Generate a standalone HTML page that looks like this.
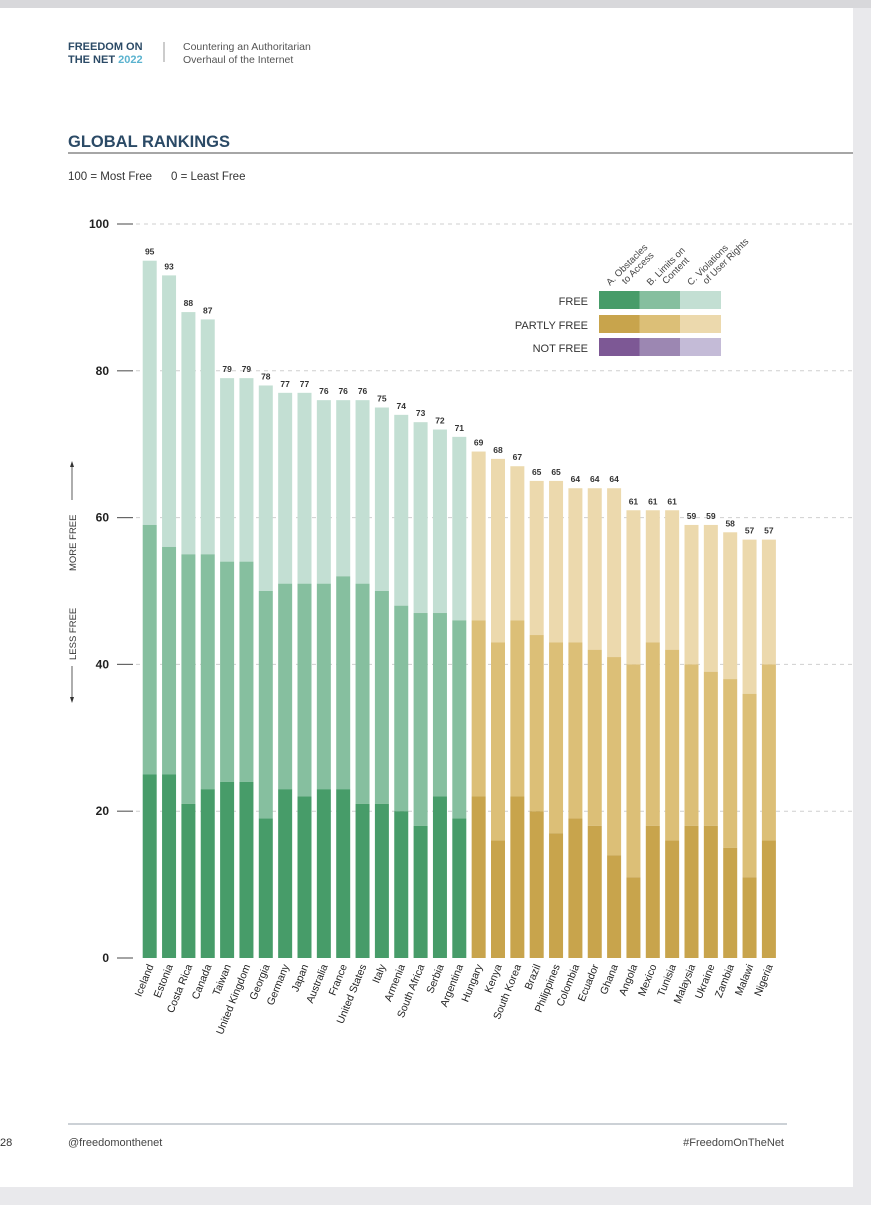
<!DOCTYPE html>
<html><head><meta charset="utf-8"><style>
html,body{margin:0;padding:0;background:#e9e9ec;}
body{width:871px;height:1200px;position:relative;overflow:hidden;font-family:"Liberation Sans",sans-serif;}
</style></head><body>
<svg width="871" height="1200" xmlns="http://www.w3.org/2000/svg">
<rect x="0" y="8" width="853" height="1179" fill="#ffffff"/>
<rect x="0" y="0" width="871" height="8" fill="#d8d8db"/>
<text x="68" y="50" font-size="11" font-weight="bold" fill="#2b4a66">FREEDOM ON</text>
<text x="68" y="63" font-size="11" font-weight="bold" fill="#2b4a66">THE NET <tspan fill="#5bb3cf">2022</tspan></text>
<line x1="164" y1="42" x2="164" y2="62" stroke="#999" stroke-width="1"/>
<text x="183" y="50" font-size="10.5" fill="#555">Countering an Authoritarian</text>
<text x="183" y="63" font-size="10.5" fill="#555">Overhaul of the Internet</text>
<text x="68" y="147" font-size="16.5" font-weight="bold" fill="#2b4a66">GLOBAL RANKINGS</text>
<line x1="68" y1="153" x2="853" y2="153" stroke="#888" stroke-width="1.5"/>
<text x="68" y="180" font-size="11.5" fill="#333">100 = Most Free<tspan x="171">0 = Least Free</tspan></text>
<g id="axis"></g>
<g id="bars"></g>
<g id="legend"></g>
<g font-size="9.5" fill="#333">
<line x1="72" y1="464" x2="72" y2="500" stroke="#333" stroke-width="0.8"/>
<polygon points="72,461 70,467 74,467" fill="#333"/>
<text transform="translate(76,571) rotate(-90)">MORE FREE</text>
<text transform="translate(76,660) rotate(-90)">LESS FREE</text>
<line x1="72" y1="666" x2="72" y2="700" stroke="#333" stroke-width="0.8"/>
<polygon points="72,703 70,697 74,697" fill="#333"/>
</g>
<line x1="68" y1="1124" x2="787" y2="1124" stroke="#9aa3ad" stroke-width="1"/>
<text x="0" y="1146" font-size="11" fill="#333">28</text>
<text x="68" y="1146" font-size="11" fill="#444">@freedomonthenet</text>
<text x="784" y="1146" font-size="11" fill="#444" text-anchor="end">#FreedomOnTheNet</text>
</svg>
<script>
const countries=["Iceland","Estonia","Costa Rica","Canada","Taiwan","United Kingdom","Georgia","Germany","Japan","Australia","France","United States","Italy","Armenia","South Africa","Serbia","Argentina","Hungary","Kenya","South Korea","Brazil","Philippines","Colombia","Ecuador","Ghana","Angola","Mexico","Tunisia","Malaysia","Ukraine","Zambia","Malawi","Nigeria"];
const totals=[95,93,88,87,79,79,78,77,77,76,76,76,75,74,73,72,71,69,68,67,65,65,64,64,64,61,61,61,59,59,58,57,57];
const scoreA=[25,25,21,23,24,24,19,23,22,23,23,21,21,20,18,22,19,22,16,22,20,17,19,18,14,11,18,16,18,18,15,11,16];
const scoreB=[34,31,34,32,30,30,31,28,29,28,29,30,29,28,29,25,27,24,27,24,24,26,24,24,27,29,25,26,22,21,23,25,24];
const status=["F","F","F","F","F","F","F","F","F","F","F","F","F","F","F","F","F","PF","PF","PF","PF","PF","PF","PF","PF","PF","PF","PF","PF","PF","PF","PF","PF"];
const yTicks=[0,20,40,60,80,100];
const NS="http://www.w3.org/2000/svg";
const colors={F:["#479c69","#86bf9f","#c3dfd3"],PF:["#c8a44c","#dcbf77","#ecd9ad"],NF:["#7d5895","#9c87b2","#c4bbd7"]};
const y0=958,unit=7.34,x0=142.7,step=19.35,bw=14;
const yS=v=>y0-v*unit, xS=i=>x0+i*step;
function mk(tag,attrs,parent){const e=document.createElementNS(NS,tag);for(const k in attrs)e.setAttribute(k,attrs[k]);parent.appendChild(e);return e;}
const axis=document.getElementById('axis');
yTicks.forEach(t=>{
 const y=yS(t);
 if(t>0){const g=mk('line',{x1:136,y1:y,x2:853,y2:y,stroke:'#cfcfcf','stroke-width':1,'stroke-dasharray':'4,4'},axis);
 
 }
 mk('line',{x1:117,y1:y,x2:133,y2:y,stroke:'#666','stroke-width':1.2},axis);
 const l=mk('text',{x:109,y:y+4,'font-size':12,'font-weight':'bold','text-anchor':'end',fill:'#222'},axis);
 l.textContent=t;
 
 
});
const bars=document.getElementById('bars');
countries.forEach((c,i)=>{
 const x=xS(i),col=colors[status[i]];
 const a=scoreA[i],ab=a+scoreB[i],tot=totals[i];
 const s3=mk('rect',{x:x,y:yS(tot),width:bw,height:yS(ab)-yS(tot),fill:col[2]},bars);
 
 
 const s2=mk('rect',{x:x,y:yS(ab),width:bw,height:yS(a)-yS(ab),fill:col[1]},bars);
 
 
 const s1=mk('rect',{x:x,y:yS(a),width:bw,height:y0-yS(a),fill:col[0]},bars);
 
 
 const v=mk('text',{x:x+bw/2,y:yS(tot)-6,'font-size':8.5,'font-weight':'bold','text-anchor':'middle',fill:'#333'},bars);
 v.textContent=tot;
 
 
 const n=mk('text',{transform:`translate(${x+bw/2+4},${y0+8}) rotate(-68)`,'font-size':10.5,'text-anchor':'end',fill:'#222'},bars);
 n.textContent=c;
 
 
});
const lg=document.getElementById('legend');
const rows=[["FREE","F",300],["PARTLY FREE","PF",324],["NOT FREE","NF",347]];
rows.forEach(r=>{
 const t=mk('text',{x:588,y:r[2]+5,'font-size':11,'text-anchor':'end',fill:'#333'},lg);
 t.textContent=r[0];
 
 
 colors[r[1]].forEach((c,j)=>{
  const s=mk('rect',{x:599+j*40.5,y:r[2]-9,width:41,height:18,fill:c},lg);
  
  
 });
});
const heads=[["A. Obstacles","to Access"],["B. Limits on","Content"],["C. Violations","of User Rights"]];
heads.forEach((h,j)=>{
 const cx=610+j*40.5;
 const t=mk('text',{transform:`translate(${cx},286) rotate(-45)`,'font-size':9.5,fill:'#444'},lg);
 const a=mk('tspan',{x:0,dy:0},t);a.textContent=h[0];
 const b=mk('tspan',{x:12,dy:10},t);b.textContent=h[1];
 
 
});
</script>
</body></html>
